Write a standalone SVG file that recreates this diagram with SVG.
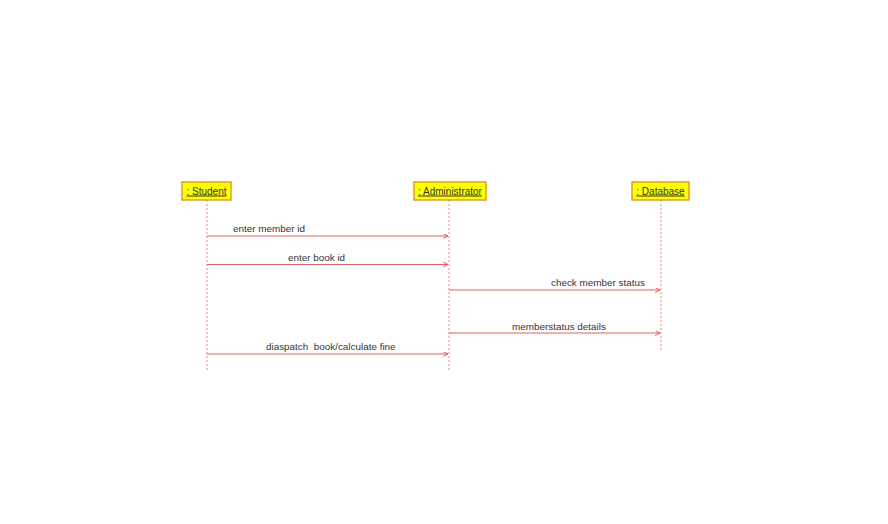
<svg xmlns="http://www.w3.org/2000/svg" width="888" height="524" viewBox="0 0 888 524">
<style>
.box{fill:#ffff00;stroke:#e0a020;stroke-width:1.5}
.nt{font-family:"Liberation Sans",Arial,sans-serif;font-size:10px;fill:#333;text-decoration:underline}
.life{stroke:#e88080;stroke-width:1;stroke-dasharray:2,2;fill:none}
.msg{stroke:#e06060;stroke-width:1;fill:none}
.lt{font-family:"Liberation Sans",Arial,sans-serif;font-size:9.9px;fill:#333}
</style>
<defs>
<marker id="ah" markerWidth="6" markerHeight="6" refX="5" refY="2.5" orient="auto" markerUnits="userSpaceOnUse">
<path d="M0,0 L5,2.5 L0,5" fill="none" stroke="#e06060" stroke-width="1"/>
</marker>
</defs>
<rect width="888" height="524" fill="#fff"/>
<g id="student">
<rect class="box" x="182" y="182" width="49" height="18"/>
<text class="nt" x="206.5" y="194.5" text-anchor="middle">: Student</text>
<line class="life" x1="207" y1="200" x2="207" y2="370"/>
</g>
<g id="administrator">
<rect class="box" x="414" y="182" width="72" height="18"/>
<text class="nt" x="450" y="194.5" text-anchor="middle">: Administrator</text>
<line class="life" x1="449" y1="200" x2="449" y2="370"/>
</g>
<g id="database">
<rect class="box" x="632" y="182" width="57" height="18"/>
<text class="nt" x="660.5" y="194.5" text-anchor="middle">: Database</text>
<line class="life" x1="661" y1="200" x2="661" y2="350"/>
</g>
<g id="connectors">
<line class="msg" x1="207" y1="236" x2="448" y2="236" marker-end="url(#ah)"/>
<text class="lt" x="233" y="232">enter member id</text>
<line class="msg" x1="207" y1="264.5" x2="448" y2="264.5" marker-end="url(#ah)"/>
<text class="lt" x="288" y="261">enter book id</text>
<line class="msg" x1="449" y1="290" x2="660" y2="290" marker-end="url(#ah)"/>
<text class="lt" x="551" y="286">check member status</text>
<line class="msg" x1="449" y1="333" x2="660" y2="333" marker-end="url(#ah)"/>
<text class="lt" x="512" y="330">memberstatus details</text>
<line class="msg" x1="207" y1="354" x2="448" y2="354" marker-end="url(#ah)"/>
<text class="lt" x="266" y="350" xml:space="preserve">diaspatch  book/calculate fine</text>
</g>
</svg>
